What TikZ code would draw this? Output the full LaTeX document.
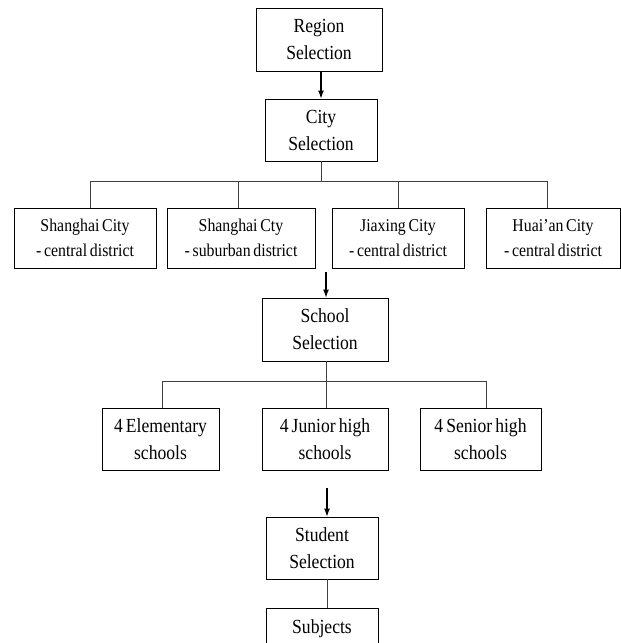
\documentclass[tikz,border=0pt]{standalone}
\usepackage{fontspec}
\setmainfont{Liberation Serif}[WordSpace=0.7, FakeStretch=0.88]
\usetikzlibrary{arrows.meta}

\begin{document}
\begin{tikzpicture}[x=1pt,y=-1pt,
  box/.style={draw=black, line width=0.9pt, align=center, inner sep=0pt,
    font=\fontsize{20}{27}\selectfont},
  cbox/.style={box, font=\fontsize{18}{25}\selectfont},
  link/.style={draw=black!75, line width=0.8pt},
  arr/.style={draw=black, line width=1.1pt, -{Latex[length=8pt,width=6pt]}}]
  \useasboundingbox (0,0) rectangle (621,643);
  \clip (0,0) rectangle (621,643);
  \node[box, minimum width=126pt, minimum height=63pt] (region) at (319,39.5) {Region\\Selection};
  \node[box, minimum width=112pt, minimum height=62pt] (city) at (321,130) {City\\Selection};
  \draw[arr] (region.south -| city.north) -- (city.north);
  \node[cbox, minimum width=142pt, minimum height=60pt] (shc) at (85,238) {Shanghai City\\- central district};
  \node[cbox, minimum width=148pt, minimum height=60pt] (shs) at (241,238) {Shanghai Cty\\- suburban district};
  \node[cbox, minimum width=132pt, minimum height=60pt] (jxc) at (398,238) {Jiaxing City\\- central district};
  \node[cbox, minimum width=134pt, minimum height=60pt] (hac) at (553,238) {Huai'an City\\- central district};
  \coordinate (bus1) at (90,181);
  \coordinate (bus2) at (238,181);
  \coordinate (bus3) at (398,181);
  \coordinate (bus4) at (547,181);
  \draw[link] (city.south) -- (city.south |- bus1);
  \draw[link] (bus1) -- (bus4);
  \draw[link] (bus1) -- (bus1 |- shc.north);
  \draw[link] (bus2) -- (bus2 |- shs.north);
  \draw[link] (bus3) -- (bus3 |- jxc.north);
  \draw[link] (bus4) -- (bus4 |- hac.north);
  \node[box, minimum width=126pt, minimum height=63pt] (school) at (325,329.5) {School\\Selection};
  \coordinate (in2) at (326,272);
  \draw[arr] (in2) -- (in2 |- school.north);
  \node[box, minimum width=117pt, minimum height=62pt] (elem) at (160.5,439) {4 Elementary\\schools};
  \node[box, minimum width=126pt, minimum height=62pt] (junior) at (325,439) {4 Junior high\\schools};
  \node[box, minimum width=121pt, minimum height=62pt] (senior) at (480.5,439) {4 Senior high\\schools};
  \coordinate (sbus1) at (162,381);
  \coordinate (sbus2) at (326,381);
  \coordinate (sbus3) at (486,381);
  \draw[link] (school.south -| sbus2) -- (sbus2);
  \draw[link] (sbus1) -- (sbus3);
  \draw[link] (sbus1) -- (sbus1 |- elem.north);
  \draw[link] (sbus2) -- (sbus2 |- junior.north);
  \draw[link] (sbus3) -- (sbus3 |- senior.north);
  \node[box, minimum width=112pt, minimum height=62pt] (student) at (322,548) {Student\\Selection};
  \coordinate (in3) at (327,488);
  \draw[arr] (in3) -- (in3 |- student.north);
  \node[box, minimum width=112pt, minimum height=42pt] (subjects) at (322,629) {Subjects};
  \draw[link] (student.south -| in3) -- (subjects.north -| in3);
\end{tikzpicture}
\end{document}
